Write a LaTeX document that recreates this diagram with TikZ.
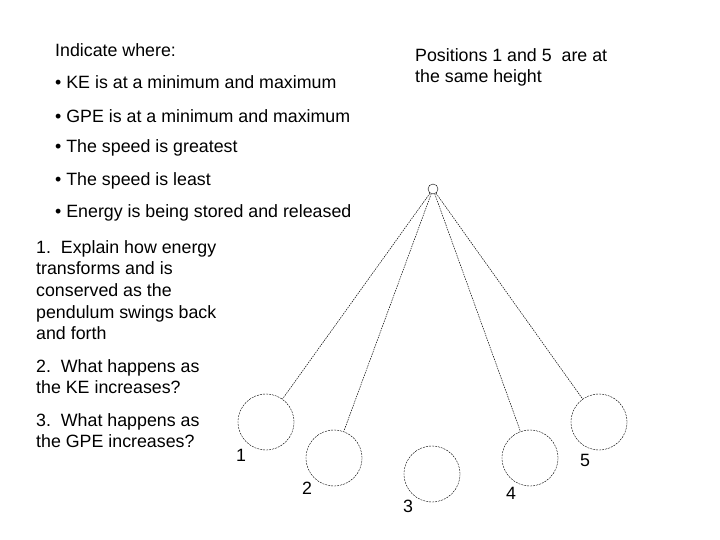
\documentclass[tikz,border=0pt]{standalone}
\usepackage{fontspec}
\setmainfont{Liberation Sans}
\begin{document}
\begin{tikzpicture}[x=1pt,y=-1pt,
  txt/.style={anchor=west,inner sep=0pt,font=\fontsize{17.8}{21.7}\selectfont,align=left},
  bob/.style={circle,draw,dashed,dash pattern=on 2pt off 1pt,minimum size=56pt,inner sep=0pt},
  str/.style={dash pattern=on 1.5pt off 1pt,line width=0.5pt},
  num/.style={inner sep=0pt,font=\fontsize{17.8}{18}\selectfont}]
\useasboundingbox (0,0) rectangle (720,540);
\node[txt] (t0) at (55,50) {Indicate where:};
\node[txt] (t1) at (55,82) {• KE is at a minimum and maximum};
\node[txt] (t2) at (55,116) {• GPE is at a minimum and maximum};
\node[txt] (t3) at (55,148) {• The speed is greatest};
\node[txt] (t4) at (55,181) {• The speed is least};
\node[txt] (t5) at (55,213) {• Energy is being stored and released};
\node[txt,anchor=north west] (q1) at (36,240) {1.\ \ Explain how energy\\transforms and is\\conserved as the\\pendulum swings back\\and forth};
\node[txt,anchor=north west] (q2) at (36,359) {2.\ \ What happens as\\the KE increases?};
\node[txt,anchor=north west] (q3) at (36,413) {3.\ \ What happens as\\the GPE increases?};
\node[txt,anchor=north west] (r) at (415,48) {Positions 1 and 5\ \ are at\\the same height};
\node[circle,draw,minimum size=10pt,inner sep=0pt] (p) at (433,189) {};
\node[bob] (b1) at (266,422) {};
\node[bob] (b2) at (334,458) {};
\node[bob] (b3) at (432,474) {};
\node[bob] (b4) at (530,458) {};
\node[bob] (b5) at (599,422) {};
\foreach \i in {1,2,4,5} \draw[str] (p) -- (b\i);
\node[num] (n1) at (241,455) {1};
\node[num] (n2) at (307,488) {2};
\node[num] (n3) at (408,506) {3};
\node[num] (n4) at (511,493) {4};
\node[num] (n5) at (585,460) {5};
\end{tikzpicture}
\end{document}
